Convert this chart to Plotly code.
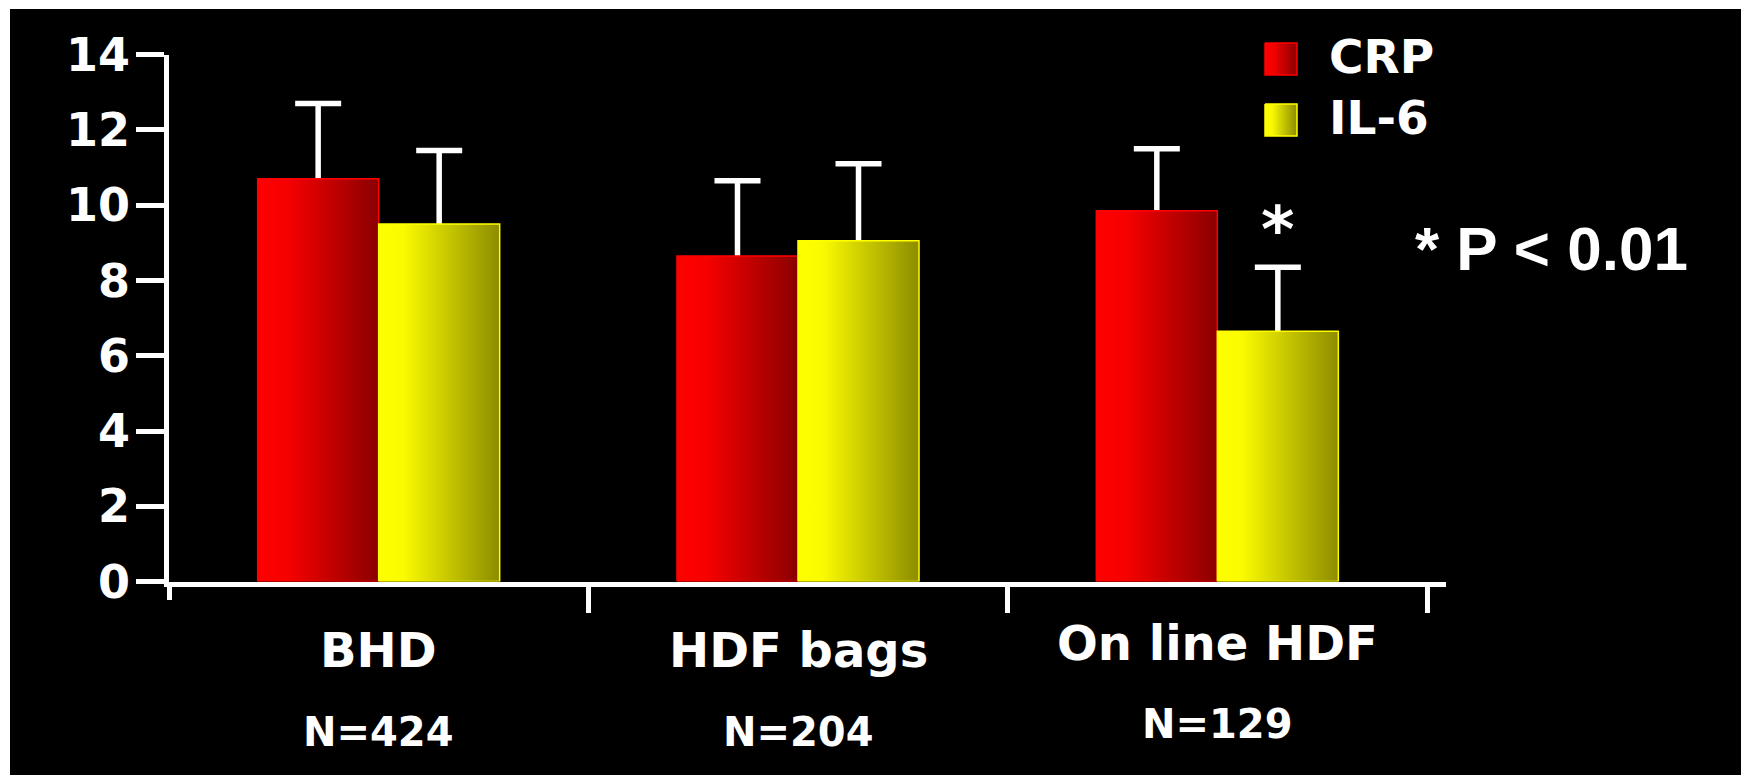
import plotly.graph_objects as go

# ---- data -------------------------------------------------------------
groups = ["BHD", "HDF bags", "On line HDF"]
group_n = ["N=424", "N=204", "N=129"]
series = ["CRP", "IL-6"]
crp_mean = [10.7, 8.65, 9.85]
crp_sd = [2.0, 2.0, 1.65]
il6_mean = [9.5, 9.05, 6.65]
il6_sd = [1.95, 2.05, 1.7]
y_ticks = [0, 2, 4, 6, 8, 10, 12, 14]
sig_star = "*"
sig_note = "* P < 0.01"

# ---- styling ----------------------------------------------------------
W, H = 1744, 775
BAR_W = 0.2886
BOLD = "DejaVu Sans"
ARIAL = "Liberation Sans"
crp_scale = [[0, "#ff0000"], [0.25, "#f60000"], [1, "#8a0000"]]
il6_scale = [[0, "#ffff00"], [0.2, "#fbfb00"], [1, "#8c8c00"]]
styles = [
    dict(mean=crp_mean, sd=crp_sd, offset=-BAR_W, scale=crp_scale, edge="#ff0000", solid="#c00000"),
    dict(mean=il6_mean, sd=il6_sd, offset=0.0, scale=il6_scale, edge="#ffff00", solid="#cccc00"),
]


def px(x):
    return x / W


def py(y):
    return 1 - y / H


fig = go.Figure()
cats = list(range(len(groups)))

for name, st in zip(series, styles):
    # bar with its SD whisker (the lower half is hidden under the bar body)
    fig.add_trace(go.Bar(
        x=cats, y=st["mean"], width=BAR_W, offset=st["offset"],
        marker=dict(color=st["solid"], line=dict(width=0)),
        error_y=dict(type="data", symmetric=True, array=st["sd"],
                     color="white", thickness=5.5, width=23),
        name=name, showlegend=False, hoverinfo="skip",
    ))
    # horizontal colour gradient laid over each bar body
    for c, v in zip(cats, st["mean"]):
        x0 = c + st["offset"]
        x1 = x0 + BAR_W
        fig.add_trace(go.Scatter(
            x=[x0, x0, x1, x1, x0], y=[0, v, v, 0, 0],
            mode="lines", fill="toself",
            fillgradient=dict(type="horizontal", colorscale=st["scale"]),
            line=dict(color=st["edge"], width=1.5),
            showlegend=False, hoverinfo="skip",
        ))

# legend swatches on a pixel-space helper axis pair
legend_rows = [(1265, 43), (1265, 104)]
for (lx, ly), name, st in zip(legend_rows, series, styles):
    s = 32
    fig.add_trace(go.Scatter(
        x=[lx, lx, lx + s, lx + s, lx], y=[ly, ly + s, ly + s, ly, ly],
        xaxis="x2", yaxis="y2", mode="lines", fill="toself",
        fillgradient=dict(type="horizontal", colorscale=st["scale"]),
        line=dict(color=st["edge"], width=1.5),
        showlegend=False, hoverinfo="skip",
    ))

annotations = []
label_y = [650, 650, 643]
n_y = [732, 732, 724]
for c, g, n, ly, ny in zip(cats, groups, group_n, label_y, n_y):
    annotations.append(dict(x=c, xref="x", y=py(ly), yref="paper", text=g,
                            showarrow=False, xanchor="center", yanchor="middle",
                            font=dict(family=BOLD, weight="bold", size=48, color="white")))
    annotations.append(dict(x=c, xref="x", y=py(ny), yref="paper", text=n,
                            showarrow=False, xanchor="center", yanchor="middle",
                            font=dict(family=BOLD, weight="bold", size=40, color="white")))

# significance star above the on-line HDF IL-6 bar
annotations.append(dict(x=2 + BAR_W / 2, xref="x", y=il6_mean[2] + il6_sd[2] + 1.0, yref="y",
                        text=sig_star, showarrow=False, xanchor="center", yanchor="middle",
                        font=dict(family=BOLD, weight="bold", size=64, color="white")))
annotations.append(dict(x=px(1413), xref="paper", y=py(248), yref="paper", text=sig_note,
                        showarrow=False, xanchor="left", yanchor="middle",
                        font=dict(family=ARIAL, weight="bold", size=62, color="white")))

for (lx, ly), name in zip(legend_rows, series):
    annotations.append(dict(x=px(1327), xref="paper", y=py(ly + 14), yref="paper", text=name,
                            showarrow=False, xanchor="left", yanchor="middle",
                            font=dict(family=BOLD, weight="bold", size=47, color="white")))

x_left, x_right = 169, 1446
unit = (1427 - 169) / 3
fig.update_layout(
    template="none",
    width=W, height=H,
    margin=dict(l=0, r=0, t=0, b=0, pad=0, autoexpand=False),
    paper_bgcolor="white",
    plot_bgcolor="rgba(0,0,0,0)",
    barmode="overlay",
    showlegend=False,
    shapes=[dict(type="rect", xref="paper", yref="paper", x0=px(10), x1=px(1741),
                 y0=0, y1=py(9), fillcolor="black", line=dict(width=0), layer="below")],
    annotations=annotations,
    xaxis=dict(
        domain=[px(x_left), px(x_right)],
        range=[-0.5, -0.5 + (x_right - x_left) / unit],
        tickmode="array", tickvals=[0.5, 1.5, 2.5], showticklabels=False,
        ticks="outside", ticklen=27, tickwidth=5, tickcolor="white",
        minor=dict(tickmode="array", tickvals=[-0.5], ticks="outside",
                   ticklen=14, tickwidth=4.5, tickcolor="white"),
        showline=True, linecolor="white", linewidth=4.5,
        showgrid=False, zeroline=False, fixedrange=True, automargin=False,
    ),
    yaxis=dict(
        domain=[py(581.6), py(54.5)],
        range=[0, 14],
        tickmode="array", tickvals=y_ticks,
        ticks="outside", ticklen=28, tickwidth=5, tickcolor="white",
        ticklabelstandoff=-3,
        tickfont=dict(family=BOLD, weight="bold", size=46, color="white"),
        showline=True, linecolor="white", linewidth=4.5,
        showgrid=False, zeroline=False, fixedrange=True, automargin=False,
    ),
    xaxis2=dict(domain=[0, 1], range=[0, W], visible=False, fixedrange=True,
                anchor="y2", automargin=False),
    yaxis2=dict(domain=[0, 1], range=[H, 0], visible=False, fixedrange=True,
                anchor="x2", automargin=False),
)

fig.write_html("out.html")
